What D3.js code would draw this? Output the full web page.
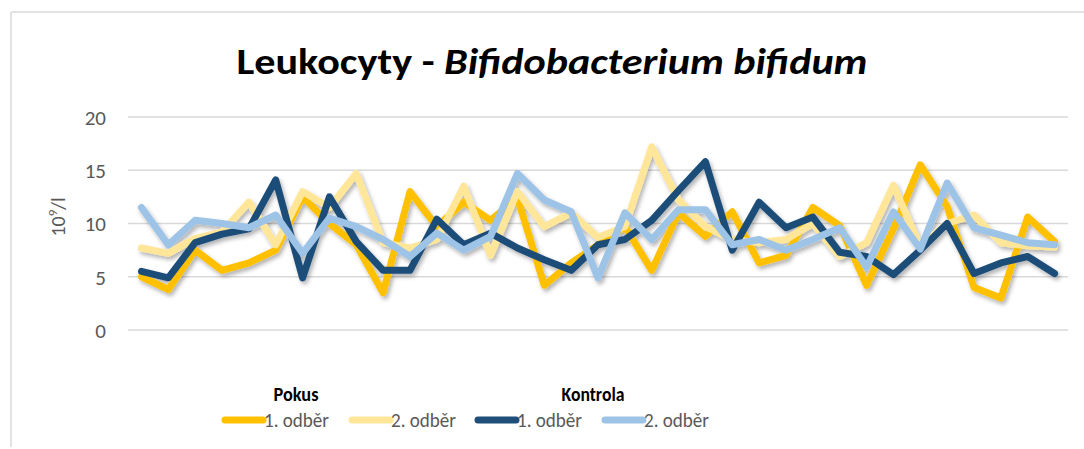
<!DOCTYPE html>
<html lang="cs">
  <head>
    <meta charset="utf-8" />
    <title>Leukocyty - Bifidobacterium bifidum</title>
    <script src="https://d3js.org/d3.v7.min.js"></script>
    <style>
      body {
        margin: 0;
        background: #fff;
      }
      .grid line {
        stroke: #d9d9d9;
        stroke-width: 1.5px;
      }
      .ylab text {
        font-family: Carlito, Calibri, Lato, sans-serif;
        font-size: 21px;
        fill: #595959;
      }
      path.serie {
        fill: none;
        stroke-width: 7px;
        stroke-linejoin: round;
        stroke-linecap: round;
      }
      .legend text {
        font-family: Carlito, Calibri, Lato, sans-serif;
        fill: #595959;
        font-size: 20px;
      }
    </style>
  </head>
  <body>
    <script>
      let w = 1084;
      let h = 449;

      // 35 vzorků na osu x
      let categories = d3.range(1, 36);
      let yTicks = [0, 5, 10, 15, 20];

      let pokus1 = [5.0, 3.8, 7.5, 5.6, 6.3, 7.5, 12.5, 10.0, 8.0, 3.5, 13.0, 9.7,
        12.0, 10.3, 12.4, 4.2, 6.3, 8.0, 9.7, 5.6, 11.0, 8.8, 11.1, 6.3, 7.0, 11.5,
        9.8, 4.2, 9.5, 15.5, 11.6, 4.0, 3.0, 10.6, 8.3];
      let pokus2 = [7.7, 7.2, 8.6, 9.2, 12.0, 8.0, 13.0, 11.5, 14.7, 8.2, 7.7, 8.5,
        13.5, 7.0, 13.0, 9.7, 11.0, 8.7, 9.7, 17.2, 12.2, 9.7, 8.5, 8.2, 8.5, 10.0,
        6.9, 8.2, 13.6, 7.8, 10.0, 10.8, 8.2, 7.9, 7.8];
      let kontrola1 = [5.5, 4.9, 8.2, 9.0, 9.5, 14.1, 4.9, 12.5, 8.3, 5.6, 5.6, 10.4,
        8.0, 9.1, 7.7, 6.6, 5.6, 8.0, 8.5, 10.3, 13.1, 15.8, 7.5, 12.0, 9.6, 10.6,
        7.3, 6.9, 5.2, 7.5, 10.0, 5.3, 6.3, 6.9, 5.3];
      let kontrola2 = [11.5, 8.0, 10.3, 10.0, 9.6, 10.8, 7.2, 10.5, 9.7, 8.5, 6.9, 9.1,
        7.5, 8.8, 14.7, 12.2, 11.1, 4.9, 11.0, 8.5, 11.3, 11.3, 8.0, 8.5, 7.5, 8.5,
        9.6, 5.9, 11.1, 7.6, 13.8, 9.6, 8.9, 8.2, 8.0];

      let series = [
        { name: "1. odběr", values: pokus1, color: "#FFC000" },
        { name: "2. odběr", values: pokus2, color: "#FFE699" },
        { name: "1. odběr", values: kontrola1, color: "#1F4E79" },
        { name: "2. odběr", values: kontrola2, color: "#9DC3E6" },
      ];

      let svg = d3.select("body").append("svg").attr("width", w).attr("height", h);

      let defs = svg.append("defs");
      let f = defs
        .append("filter")
        .attr("id", "stin")
        .attr("x", "-10%")
        .attr("y", "-10%")
        .attr("width", "120%")
        .attr("height", "130%");
      f.append("feDropShadow")
        .attr("dx", 2)
        .attr("dy", 3)
        .attr("stdDeviation", 2)
        .attr("flood-color", "#000")
        .attr("flood-opacity", 0.3);

      // rámeček grafu
      svg.append("line").attr("x1", 11).attr("x2", 11).attr("y1", 12).attr("y2", 447)
        .attr("stroke", "#d9d9d9").attr("stroke-width", 1.5);
      svg.append("line").attr("x1", 11).attr("x2", w).attr("y1", 12).attr("y2", 12)
        .attr("stroke", "#d9d9d9").attr("stroke-width", 1.5);

      let x_scale = d3.scaleBand().domain(categories).range([128, 1068]);
      let y_scale = d3.scaleLinear().domain([0, 20]).range([330, 117]);

      svg.append("g")
        .attr("class", "grid")
        .selectAll("line")
        .data(yTicks)
        .join("line")
        .attr("x1", 128)
        .attr("x2", 1068)
        .attr("y1", (d) => y_scale(d))
        .attr("y2", (d) => y_scale(d));

      let y_axis = d3.axisLeft(y_scale).tickValues(yTicks).tickSize(0).tickPadding(0);
      let ga = svg.append("g")
        .attr("class", "ylab")
        .attr("transform", "translate(106,0)")
        .call(y_axis);
      ga.select(".domain").remove();
      ga.selectAll("text").attr("dy", "0.35em");

      // popisek osy y
      let yl = svg.append("text")
        .attr("transform", "translate(65,217) rotate(-90)")
        .attr("text-anchor", "middle")
        .style("font-family", "Carlito, Calibri, Lato, sans-serif")
        .style("font-size", "20px")
        .style("fill", "#595959");
      yl.append("tspan").text("10");
      yl.append("tspan").attr("dy", -8).style("font-size", "13px").text("9");
      yl.append("tspan").attr("dy", 8).text("/l");

      let line = d3.line()
        .x((d, i) => x_scale(categories[i]) + x_scale.bandwidth() / 2)
        .y((d) => y_scale(d));

      svg.append("g")
        .attr("filter", "url(#stin)")
        .selectAll("path")
        .data(series)
        .join("path")
        .attr("class", "serie")
        .attr("stroke", (d) => d.color)
        .attr("d", (d) => line(d.values));

      // nadpis
      let title = svg.append("text")
        .attr("x", 552)
        .attr("y", 74)
        .attr("text-anchor", "middle")
        .style("font-family", "Carlito, Calibri, Lato, sans-serif")
        .style("font-size", "37px")
        .style("font-weight", "bold")
        .style("fill", "#000");
      title.append("tspan").text("Leukocyty - ");
      title.append("tspan").style("font-style", "italic").text("Bifidobacterium  bifidum");
      title.attr("textLength", 631).attr("lengthAdjust", "spacingAndGlyphs");

      // legenda
      let lg = svg.append("g").attr("class", "legend");
      lg.append("text").attr("x", 296).attr("y", 401).attr("text-anchor", "middle")
        .style("font-weight", "bold").style("fill", "#000").text("Pokus")
        .attr("textLength", 45).attr("lengthAdjust", "spacingAndGlyphs");
      lg.append("text").attr("x", 593).attr("y", 401).attr("text-anchor", "middle")
        .style("font-weight", "bold").style("fill", "#000").text("Kontrola")
        .attr("textLength", 63).attr("lengthAdjust", "spacingAndGlyphs");

      let legX = [225, 352, 478, 605];
      let items = lg.selectAll("g.item")
        .data(series)
        .join("g")
        .attr("class", "item")
        .attr("transform", (d, i) => `translate(${legX[i]},420)`);
      items.append("line")
        .attr("x1", 0)
        .attr("x2", 38)
        .attr("stroke", (d) => d.color)
        .attr("stroke-width", 7)
        .attr("stroke-linecap", "round");
      items.append("text")
        .attr("x", 39)
        .attr("y", 7)
        .attr("textLength", 65)
        .attr("lengthAdjust", "spacingAndGlyphs")
        .text((d) => d.name);
    </script>
  </body>
</html>
